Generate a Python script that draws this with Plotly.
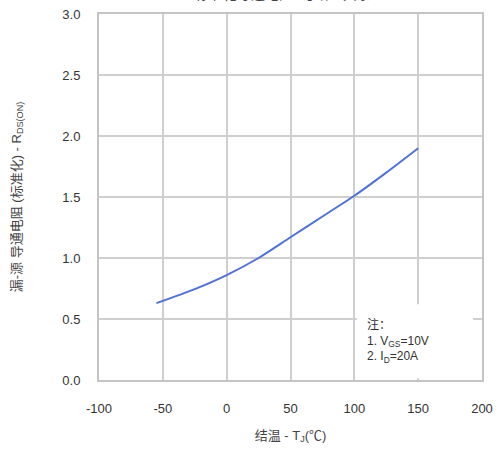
import plotly.graph_objects as go

# data
temps = [-55, -25, 0, 25, 50, 75, 100, 125, 150]
rds_norm = [0.63, 0.745, 0.86, 1.00, 1.17, 1.34, 1.51, 1.70, 1.90]
x_ticks = [-100, -50, 0, 50, 100, 150, 200]
y_ticks = [0.0, 0.5, 1.0, 1.5, 2.0, 2.5, 3.0]
y_tick_text = ["0.0", "0.5", "1.0", "1.5", "2.0", "2.5", "3.0"]
note_lines = ["注：", "1. V<sub>GS</sub>=10V", "2. I<sub>D</sub>=20A"]

FONT = "Liberation Sans, Arial, Noto Sans CJK SC, sans-serif"

fig = go.Figure()
fig.add_trace(go.Scatter(
    x=temps, y=rds_norm, mode="lines",
    line=dict(color="#4f72d8", width=2, shape="spline", smoothing=0.8),
    showlegend=False, hoverinfo="skip",
))

grid = "#cfcfcf"
fig.update_xaxes(
    range=[-100, 200], tickvals=x_ticks, ticktext=[str(v) for v in x_ticks],
    showgrid=True, gridcolor=grid, gridwidth=2,
    showline=True, linecolor="#c4c4c4", linewidth=2, mirror=True,
    zeroline=False, ticks="", ticklabelstandoff=15, automargin=False,
    tickfont=dict(family=FONT, size=13, color="#333"),
    title=dict(text="结温 - T<sub>J</sub>(℃)", standoff=16,
               font=dict(family=FONT, size=13, color="#444")),
)
fig.update_yaxes(
    range=[0, 3], tickvals=y_ticks, ticktext=y_tick_text,
    showgrid=True, gridcolor=grid, gridwidth=2,
    showline=True, linecolor="#c4c4c4", linewidth=2, mirror=True,
    zeroline=False, ticks="", ticklabelstandoff=14, automargin=False,
    tickfont=dict(family=FONT, size=13, color="#333"),
    title=dict(text="漏-源 导通电阻 (标准化) - R<sub>DS(ON)</sub>", standoff=38,
               font=dict(family=FONT, size=13, color="#444")),
)

# white note box in lower right
fig.add_shape(type="rect", xref="x", yref="y", x0=102, x1=193, y0=0.015, y1=0.62,
              fillcolor="white", line=dict(width=0), layer="above")
fig.add_annotation(
    xref="x", yref="y", x=108, y=0.53, xanchor="left", yanchor="top",
    text="<br>".join(note_lines), showarrow=False, align="left",
    font=dict(family=FONT, size=12, color="#333"),
)

# title (cut off at the top of the page in the reference)
fig.add_annotation(
    xref="paper", yref="paper", x=0.48, y=1, xanchor="center", yanchor="bottom",
    yshift=10, text="标准化导通电阻  与结温关系", showarrow=False,
    font=dict(family=FONT, size=14, color="#444"),
)

fig.update_layout(
    width=500, height=458,
    margin=dict(l=99, r=18, t=14, b=78, autoexpand=False),
    paper_bgcolor="white", plot_bgcolor="white",
    font=dict(family=FONT),
)

fig.write_html(
    "out.html",
    config={"displayModeBar": False},
    post_script="document.body.style.margin='0';document.body.style.overflow='hidden';",
)
